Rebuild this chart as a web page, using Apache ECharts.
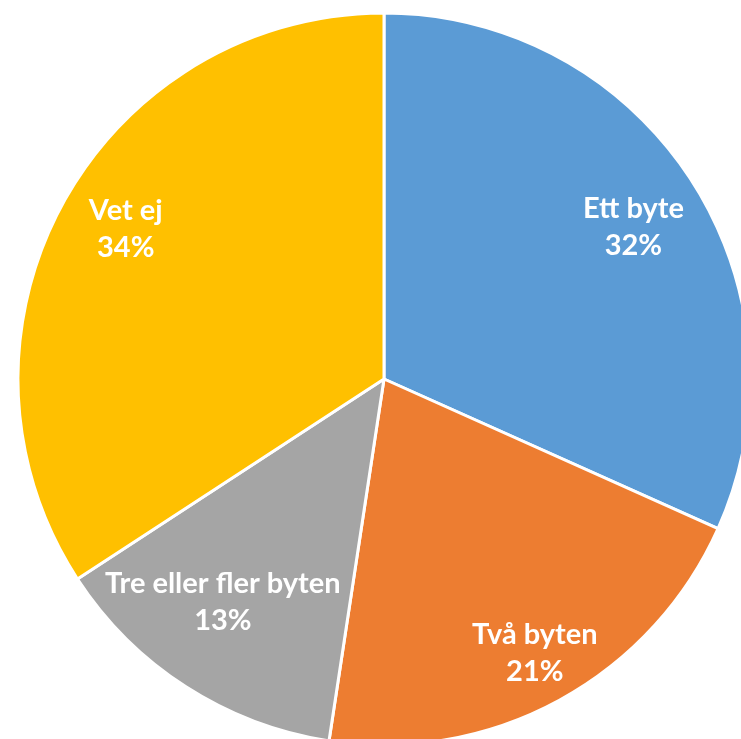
<!DOCTYPE html>
<html><head><meta charset="utf-8">
<script src="https://cdn.jsdelivr.net/npm/echarts@6/dist/echarts.min.js"></script>
<style>html,body{margin:0;padding:0;background:#fff}#c{width:741px;height:739px}</style>
</head><body><div id="c"></div>
<script>
const categories = ['Ett byte', 'Två byten', 'Tre eller fler byten', 'Vet ej'];
const values = [31.7, 20.7, 13.4, 34.2];
const colors = ['#5B9BD5', '#ED7D31', '#A5A5A5', '#FFC000'];
const labelOffsets = [[1, 9], [9, 14], [-1, -26], [2, -9]];

const total = values.reduce((a, b) => a + b, 0);
const data = categories.map((name, i) => ({ name, value: values[i], itemStyle: { color: colors[i] } }));
const chart = echarts.init(document.getElementById('c'));
chart.setOption({
  animation: false,
  series: [
    {
      type: 'pie', center: [384, 379], radius: [0, 366], startAngle: 90, clockwise: true,
      label: { show: false }, labelLine: { show: false },
      itemStyle: { borderColor: '#fff', borderWidth: 3 },
      data: data
    },
    {
      type: 'pie', center: [384, 379], radius: [220, 366], startAngle: 90, clockwise: true,
      silent: true,
      itemStyle: { color: 'transparent', borderWidth: 0 },
      label: {
        show: true, position: 'inside', color: '#fff',
        fontFamily: 'Lato', fontWeight: 'bold', fontSize: 29, lineHeight: 37,
        formatter: p => p.name + '\n' + Math.round(p.value / total * 100) + '%'
      },
      labelLine: { show: false },
      data: categories.map((name, i) => ({ name, value: values[i], label: { offset: labelOffsets[i] } }))
    }
  ]
});
</script></body></html>
